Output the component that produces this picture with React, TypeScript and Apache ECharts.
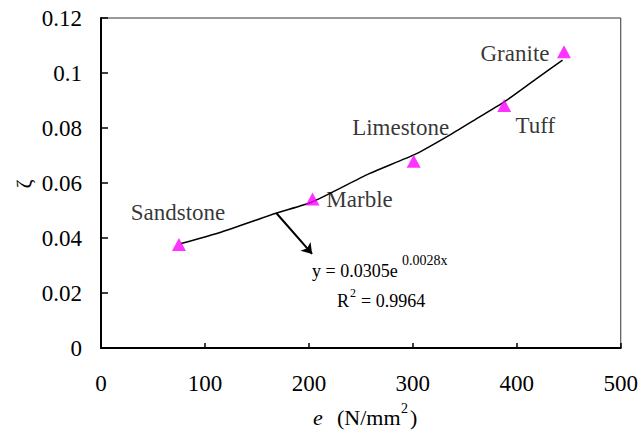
import React, { useEffect, useRef } from "react";
import * as echarts from "echarts";

// Rock types and their measured damping ratio against modulus e
const rocks = ["Sandstone", "Marble", "Limestone", "Tuff", "Granite"];
const modulus = [75, 203.5, 300.8, 387.9, 445.4];
const damping = [0.0376, 0.0542, 0.0679, 0.0882, 0.1077];
// label offsets (px) from each marker centre
const labelOffsets = [
  [-1, -32],
  [47, 1],
  [-13, -34],
  [31, 20],
  [-49, 2],
];

// exponential trend line, sampled along the fitted curve
const trendX = [77, 116, 169, 203, 258, 303, 337, 363, 389, 418, 444];
const trendY = [0.038, 0.0422, 0.0491, 0.0531, 0.0634, 0.0706, 0.0778, 0.0838, 0.0898, 0.0977, 0.1047];

// leader arrow from the curve to the equation
const arrowFrom = [168.6, 0.0491];
const arrowTo = [203.1, 0.0342];

const xTicks = { min: 0, max: 500, interval: 100 };
const yTicks = { min: 0, max: 0.12, interval: 0.02 };

const FONT = "'Liberation Serif', 'Times New Roman', 'DejaVu Serif', serif";

export default function App() {
  const ref = useRef<HTMLDivElement>(null);

  useEffect(() => {
    if (!ref.current) return;
    const chart = echarts.init(ref.current, null, { renderer: "svg" });

    const txt = (text: string, left: number, top: number, size: number, italic = false) => ({
      type: "text",
      left,
      top,
      style: {
        text,
        fontFamily: FONT,
        fontSize: size,
        fontStyle: italic ? "italic" : "normal",
        fill: "#000",
      },
    });

    chart.setOption({
      animation: false,
      backgroundColor: "#fff",
      textStyle: { fontFamily: FONT, color: "#000" },
      grid: {
        left: 101,
        top: 18,
        right: 18,
        bottom: 86,
        show: true,
        borderColor: "#333",
        borderWidth: 1,
        backgroundColor: "transparent",
      },
      xAxis: {
        type: "value",
        ...xTicks,
        splitLine: { show: false },
        axisLine: { lineStyle: { color: "#000", width: 2 } },
        axisTick: { inside: true, length: 5, lineStyle: { color: "#000", width: 1.5 } },
        axisLabel: { color: "#000", fontFamily: FONT, fontSize: 23, margin: 24 },
      },
      yAxis: {
        type: "value",
        ...yTicks,
        splitLine: { show: false },
        axisLine: { lineStyle: { color: "#000", width: 2 } },
        axisTick: { inside: true, length: 7, lineStyle: { color: "#000", width: 1.5 } },
        axisLabel: { color: "#000", fontFamily: FONT, fontSize: 23, margin: 19 },
      },
      series: [
        {
          type: "line",
          data: trendX.map((x, i) => [x, trendY[i]]),
          smooth: 0.2,
          showSymbol: false,
          symbol: "none",
          lineStyle: { color: "#000", width: 1.5 },
          z: 2,
        },
        {
          type: "lines",
          coordinateSystem: "cartesian2d",
          polyline: false,
          symbol: ["none", "arrow"],
          symbolSize: 10,
          lineStyle: { color: "#000", width: 2, opacity: 1 },
          data: [{ coords: [arrowFrom, arrowTo] }],
          z: 2,
        },
        {
          type: "scatter",
          symbol: "triangle",
          symbolSize: [14, 13],
          itemStyle: { color: "#ff00ff" },
          z: 3,
          data: rocks.map((name, i) => ({
            name,
            value: [modulus[i], damping[i]],
            label: {
              show: true,
              formatter: name,
              position: "inside",
              offset: labelOffsets[i],
              align: "center",
              verticalAlign: "middle",
              fontFamily: FONT,
              fontSize: 23,
              color: "#000",
            },
          })),
        },
      ],
      graphic: [
        // y-axis title, turned on its side
        {
          type: "text",
          x: 23,
          y: 184,
          rotation: Math.PI / 2,
          style: {
            text: "ζ",
            align: "center",
            verticalAlign: "middle",
            fontFamily: FONT,
            fontSize: 22,
            fill: "#000",
          },
        },
        // fitted equation
        txt("y = 0.0305e", 312, 262, 18),
        txt("0.0028x", 402, 253, 14),
        txt("R", 337, 292, 18),
        txt("2", 350, 287, 12),
        txt("= 0.9964", 361, 292, 18),
        // x-axis title
        txt("e", 313, 406, 22, true),
        txt("(N/mm", 337, 406, 22),
        txt("2", 401, 401, 14),
        txt(")", 410, 406, 22),
      ],
    });

    return () => chart.dispose();
  }, []);

  return (
    <div
      ref={ref}
      style={{ position: "fixed", left: 0, top: 0, width: 641, height: 434 }}
    />
  );
}
